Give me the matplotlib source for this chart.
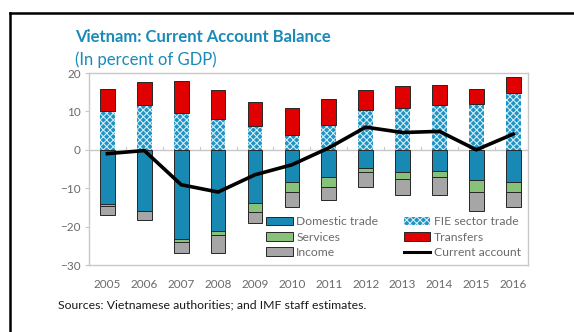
import matplotlib
matplotlib.use("Agg")
import matplotlib.pyplot as plt
from matplotlib.lines import Line2D
from matplotlib.patches import Patch
import numpy as np

plt.rcParams['font.family'] = ['Lato', 'DejaVu Sans']

years = ["2005", "2006", "2007", "2008", "2009", "2010",
         "2011", "2012", "2013", "2014", "2015", "2016"]
domestic_trade = [-14.2, -15.9, -23.2, -21.1, -13.9, -8.4, -7.1, -4.8, -5.8, -5.4, -7.8, -8.3]
services = [-0.5, -0.1, -0.8, -1.2, -2.4, -2.5, -2.5, -1.0, -1.9, -1.7, -3.1, -2.6]
income = [-2.3, -2.2, -2.9, -4.6, -2.8, -4.0, -3.5, -4.0, -4.2, -4.8, -5.0, -3.9]
fie_trade = [10.0, 11.7, 9.5, 8.1, 6.3, 3.9, 6.5, 10.3, 10.8, 11.7, 11.9, 14.8]
transfers = [5.9, 5.9, 8.3, 7.6, 6.2, 7.0, 6.6, 5.4, 5.7, 5.1, 4.0, 4.2]
current_account = [-1.0, -0.2, -9.1, -11.0, -6.5, -3.9, 0.5, 5.9, 4.5, 4.8, 0.0, 4.1]

c_dom = '#1889b3'
c_fie = '#1f94c4'
c_hatch = '#d8eef7'
c_srv = '#88c27a'
c_inc = '#a6a6a6'
c_trf = '#e00000'
c_edge = '#262626'
c_title = '#1a8ab8'
c_grey = '#6a6a6a'
c_frame = '#c8c8c8'

fig = plt.figure(figsize=(5.74, 3.32), dpi=100)
ax = fig.add_axes([89 / 574, 1 - 265 / 332, (528 - 89) / 574, (265 - 73) / 332])

x = np.arange(len(years))
w = 0.4
dom = np.array(domestic_trade)
srv = np.array(services)
inc = np.array(income)
fie = np.array(fie_trade)
trf = np.array(transfers)

ax.bar(x, dom, w, color=c_dom, edgecolor=c_edge, linewidth=0.7, zorder=2)
ax.bar(x, srv, w, bottom=dom, color=c_srv, edgecolor=c_edge, linewidth=0.7, zorder=2)
ax.bar(x, inc, w, bottom=dom + srv, color=c_inc, edgecolor=c_edge, linewidth=0.7, zorder=2)
# patterned FIE segment: fine light hatch over blue fill
plt.rcParams['hatch.linewidth'] = 0.75
ax.bar(x, fie, w, color=c_fie, edgecolor=c_hatch, hatch='xxxxx', linewidth=0, zorder=2)
ax.bar(x, trf, w, bottom=fie, color=c_trf, edgecolor=c_edge, linewidth=0.7, zorder=2)

ax.plot(x, current_account, color='black', linewidth=2.6, zorder=4, solid_joinstyle='miter')

ax.axhline(0, color=c_frame, linewidth=1.0, zorder=1)
for xb in np.arange(-0.5, len(years), 1.0):
    ax.plot([xb, xb], [0, 0.8], color=c_frame, linewidth=0.8, zorder=1)

ax.set_xlim(-0.5, len(years) - 0.6)
ax.set_ylim(-30, 20)
ax.set_yticks([-30, -20, -10, 0, 10, 20])
ax.set_xticks(x)
ax.set_xticklabels(years)
ax.tick_params(axis='x', length=0, pad=10, labelsize=8.5, labelcolor=c_grey)
ax.tick_params(axis='y', length=3, color=c_frame, width=0.8, pad=3, labelsize=8.5, labelcolor=c_grey)
for s in ax.spines.values():
    s.set_color(c_frame)
    s.set_linewidth(1.0)

handles = [
    Patch(facecolor=c_dom, edgecolor=c_edge, linewidth=0.7),
    Patch(facecolor=c_srv, edgecolor=c_edge, linewidth=0.7),
    Patch(facecolor=c_inc, edgecolor=c_edge, linewidth=0.7),
    Patch(facecolor=c_fie, edgecolor=c_hatch, hatch='xxxxx', linewidth=0),
    Patch(facecolor=c_trf, edgecolor=c_edge, linewidth=0.7),
    Line2D([0], [0], color='black', linewidth=2.2),
]
labels = ["Domestic trade", "Services", "Income",
          "FIE sector trade", "Transfers", "Current account"]
leg = ax.legend(handles, labels, ncol=2, loc='lower right', bbox_to_anchor=(1.0, 0.0),
                frameon=False, fontsize=8.7, handlelength=2.2, handleheight=0.7,
                handletextpad=0.3, columnspacing=2.1, labelspacing=0.35,
                borderaxespad=0.2)
for t in leg.get_texts():
    t.set_color(c_grey)

fig.text(75 / 574, 1 - 37 / 332, "Vietnam: Current Account Balance", fontsize=12,
         fontweight='bold', color=c_title, va='center', ha='left')
fig.text(75 / 574, 1 - 60 / 332, "(In percent of GDP)", fontsize=12,
         color=c_title, va='center', ha='left')
fig.text(58 / 574, 1 - 305 / 332, "Sources: Vietnamese authorities; and IMF staff estimates.",
         fontsize=8.8, color='#1a1a1a', va='center', ha='left')

# outer box edges
fig.add_artist(Line2D([10 / 574, 1.0], [1 - 13 / 332, 1 - 13 / 332], color='black',
                      linewidth=1.8, transform=fig.transFigure))
fig.add_artist(Line2D([10 / 574, 10 / 574], [0.0, 1 - 13 / 332], color='black',
                      linewidth=1.8, transform=fig.transFigure))

fig.savefig("out.png", dpi=100)
